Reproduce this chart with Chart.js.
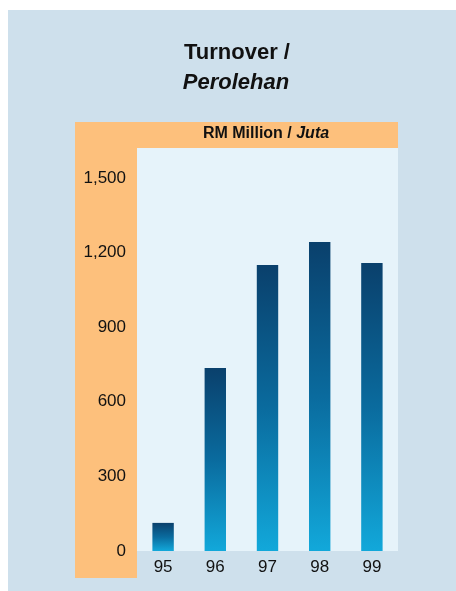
<!DOCTYPE html>
<html>
<head>
<meta charset="utf-8">
<script src="https://cdn.jsdelivr.net/npm/chart.js@4.4.1/dist/chart.umd.min.js"></script>
<style>
  html, body { margin: 0; padding: 0; background: #fff; }
  #wrap { width: 456px; height: 591px; position: relative; }
</style>
</head>
<body>
<div id="wrap"><canvas id="turnover"></canvas></div>
<script>
// Turnover, RM million
const years = ['95', '96', '97', '98', '99'];
const turnover = [113, 736, 1150, 1242, 1158];
const yTicks = [0, 300, 600, 900, 1200, 1500];

const panelBlue = '#cee0ec';
const orange = '#fdc07c';
const plotFill = '#e6f3fa';
const fontFam = '"Liberation Sans", Arial, sans-serif';

// backgrounds + titles, drawn under the chart
const frame = {
    id: 'frame',
    beforeDraw(chart) {
        const { ctx, chartArea } = chart;
        ctx.save();
        ctx.fillStyle = '#ffffff';
        ctx.fillRect(0, 0, chart.width, chart.height);
        ctx.fillStyle = panelBlue;
        ctx.fillRect(8, 10, chart.width - 8, chart.height - 10);
        ctx.fillStyle = orange;
        ctx.fillRect(75, 122, chartArea.right - 75, 578 - 122);
        ctx.fillStyle = panelBlue;
        ctx.fillRect(chartArea.left, chartArea.bottom, chartArea.right - chartArea.left, 578 - chartArea.bottom);
        ctx.fillStyle = plotFill;
        ctx.fillRect(chartArea.left, chartArea.top, chartArea.right - chartArea.left, chartArea.bottom - chartArea.top);

        ctx.fillStyle = '#111';
        ctx.textAlign = 'center';
        ctx.textBaseline = 'middle';
        ctx.font = 'bold 22px ' + fontFam;
        ctx.fillText('Turnover /', 237, 53);
        ctx.font = 'italic bold 22px ' + fontFam;
        ctx.fillText('Perolehan', 236, 83);

        // header in orange band: "RM Million / " bold + "Juta" bold italic
        const a = 'RM Million / ', b = 'Juta';
        ctx.font = 'bold 16px ' + fontFam;
        const wa = ctx.measureText(a).width;
        ctx.font = 'italic bold 16px ' + fontFam;
        const wb = ctx.measureText(b).width;
        const x0 = 266 - (wa + wb) / 2;
        ctx.textAlign = 'left';
        ctx.font = 'bold 16px ' + fontFam;
        ctx.fillText(a, x0, 134);
        ctx.font = 'italic bold 16px ' + fontFam;
        ctx.fillText(b, x0 + wa, 134);
        ctx.restore();
    }
};

const barGradient = (c) => {
    const chart = c.chart;
    const y = chart.scales && chart.scales.y;
    if (!y || c.raw === undefined) return '#0a6a9c';
    const top = y.getPixelForValue(c.raw);
    const base = y.getPixelForValue(0);
    if (!isFinite(top) || !isFinite(base) || base - top < 1) return '#0a6a9c';
    const g = chart.ctx.createLinearGradient(0, top, 0, base);
    g.addColorStop(0, '#0a406c');
    g.addColorStop(0.5, '#0a6b9e');
    g.addColorStop(1, '#12a8da');
    return g;
};

new Chart(document.getElementById('turnover'), {
    type: 'bar',
    data: {
        labels: years,
        datasets: [{
            data: turnover,
            backgroundColor: barGradient,
            borderWidth: 0,
            categoryPercentage: 1,
            barPercentage: 0.41
        }]
    },
    options: {
        responsive: true,
        maintainAspectRatio: false,
        animation: false,
        layout: { padding: { top: 148, right: 58, left: 0, bottom: 0 } },
        plugins: {
            legend: { display: false },
            tooltip: { enabled: false }
        },
        scales: {
            x: {
                grid: { display: false, drawTicks: false },
                border: { display: false },
                ticks: {
                    color: '#111',
                    padding: 6,
                    font: { family: fontFam, size: 17 }
                },
                afterFit: (s) => { s.height = 40; }
            },
            y: {
                min: 0,
                max: 1620,
                grid: { display: false, drawTicks: false },
                border: { display: false },
                afterBuildTicks: (s) => { s.ticks = yTicks.map(v => ({ value: v })); },
                ticks: {
                    color: '#111',
                    padding: 11,
                    font: { family: fontFam, size: 17 },
                    callback: (v) => v.toLocaleString('en-US')
                },
                afterFit: (s) => { s.width = 137; }
            }
        }
    },
    plugins: [frame]
});
</script>
</body>
</html>
